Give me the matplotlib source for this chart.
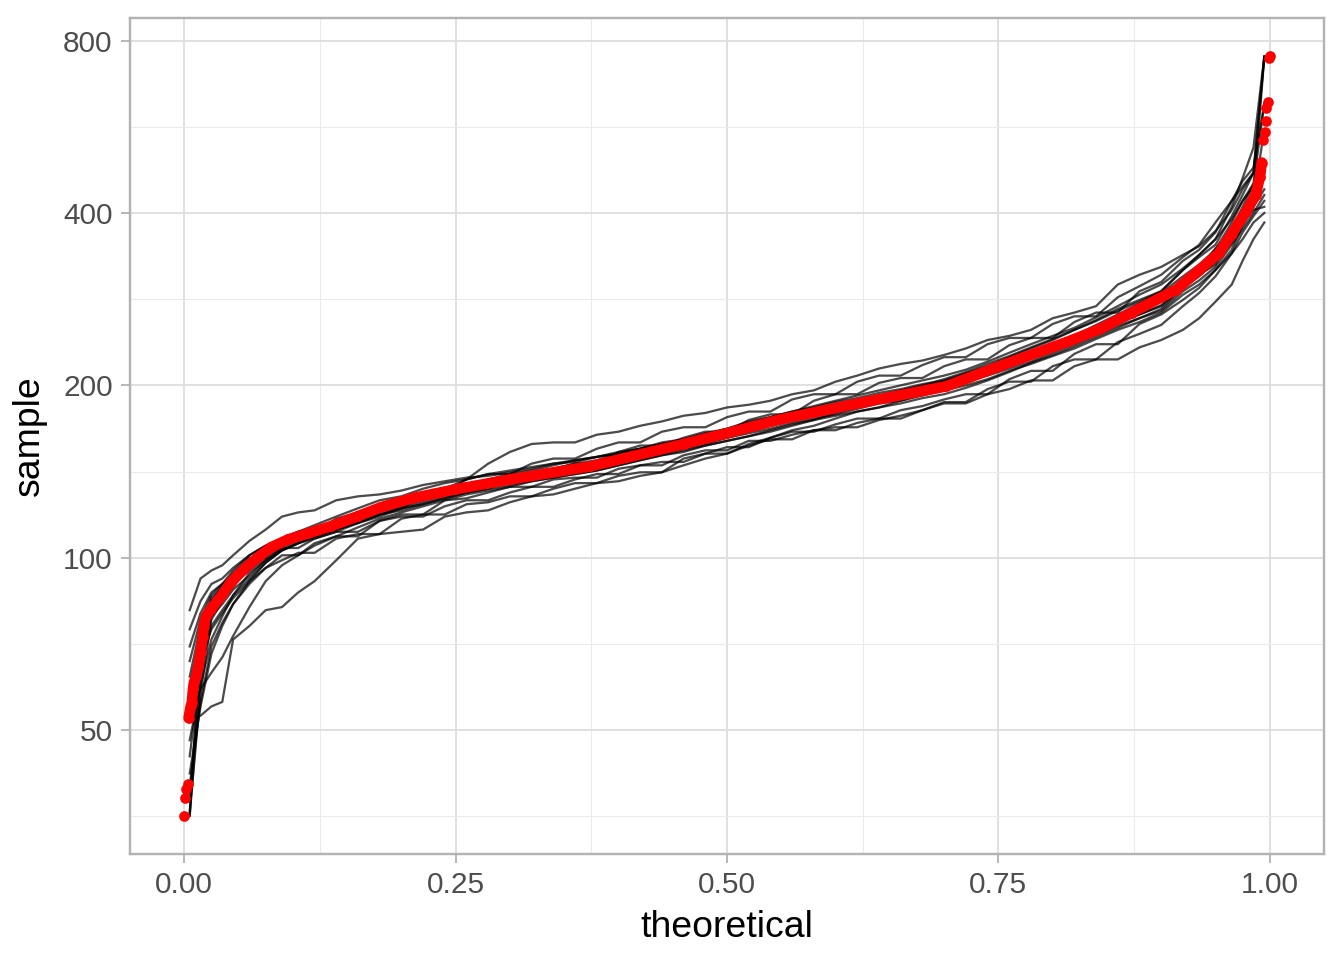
import numpy as np
import matplotlib
matplotlib.use("Agg")
from matplotlib import pyplot as plt
from matplotlib.ticker import FixedLocator, NullFormatter

plt.rcParams['font.family'] = ['Liberation Sans', 'DejaVu Sans']

# observed sample quantiles (red points)
red_x = [0.000, 0.001, 0.002, 0.003, 0.004, 0.006, 0.007, 0.008, 0.009, 0.011,
         0.013, 0.014, 0.015, 0.017, 0.018, 0.020, 0.025, 0.034, 0.043, 0.055,
         0.068, 0.080, 0.096, 0.114, 0.135, 0.160, 0.181, 0.210, 0.250, 0.300,
         0.374, 0.460, 0.500, 0.549, 0.625, 0.702, 0.751, 0.812, 0.843, 0.873,
         0.914, 0.935, 0.953, 0.965, 0.978, 0.987, 0.991, 0.9926, 0.9936, 0.996,
         0.9965, 0.997, 0.998, 0.999, 1.000]
red_y = [35.4, 38.1, 39.4, 40.2, 52.5, 55.1, 55.9, 58.9, 60.6, 62.1,
         64.4, 66.5, 68.4, 72.7, 75.9, 79.1, 81.5, 85.7, 90.6, 95.5,
         100.2, 104.3, 107.7, 110.3, 113.5, 118.2, 122.5, 127, 131.7, 137,
         144.4, 158, 165, 174.4, 186.7, 199.2, 216, 237.7, 250.6, 268,
         294, 318, 340, 368, 402, 430, 463, 490, 537, 555,
         580, 609, 624, 747, 752]

# simulated samples (black lines), all read at the same theoretical positions
sim_x = [0.005, 0.015, 0.025, 0.035, 0.045, 0.06, 0.075, 0.09, 0.105, 0.12,
         0.14, 0.16, 0.18, 0.2, 0.22, 0.24, 0.26, 0.28, 0.3, 0.32,
         0.34, 0.36, 0.38, 0.4, 0.42, 0.44, 0.46, 0.48, 0.5, 0.52,
         0.54, 0.56, 0.58, 0.6, 0.62, 0.64, 0.66, 0.68, 0.7, 0.72,
         0.74, 0.76, 0.78, 0.8, 0.82, 0.84, 0.86, 0.88, 0.9, 0.92,
         0.935, 0.95, 0.965, 0.975, 0.985, 0.995]
sim_a = [35.5, 72, 85, 89, 93, 97, 103, 106, 109, 111, 116, 119, 121, 127, 130, 132, 137, 146, 153, 158,
         159, 159, 164, 166, 170, 173, 177, 179, 183, 185, 188, 193, 196, 203, 208, 214, 218, 221, 226, 232,
         240, 244, 250, 262, 268, 275, 300, 312, 322, 338, 350, 372, 405, 440, 470, 750]
sim_b = [52, 64, 79, 83, 88, 93, 99, 104, 104, 108, 111, 111, 116, 119, 119, 126, 127, 130, 133, 133,
         137, 138, 138, 143, 145, 145, 151, 154, 154, 160, 160, 164, 167, 167, 172, 175, 175, 181, 186, 186,
         193, 197, 204, 204, 216, 222, 222, 233, 240, 250, 262, 280, 300, 330, 360, 385]
sim_c = [81, 92, 95, 97, 101, 107, 112, 118, 120, 121, 126, 128, 129, 131, 134, 136, 138, 139, 141, 143,
         146, 147, 150, 152, 155, 158, 160, 163, 167, 171, 174, 177, 180, 184, 188, 191, 195, 199, 203, 208,
         214, 222, 228, 236, 244, 252, 262, 272, 283, 298, 312, 330, 355, 385, 430, 480]
sim_d = [52, 53, 55, 56, 72, 76, 81, 82, 87, 91, 99, 108, 110, 111, 112, 118, 120, 121, 125, 128,
         129, 132, 135, 136, 139, 141, 145, 149, 152, 158, 162, 167, 170, 175, 180, 183, 188, 193, 197, 204,
         210, 216, 224, 232, 241, 250, 262, 270, 283, 300, 318, 345, 375, 410, 450, 620]
sim_e = [36, 58, 78, 84, 89, 96, 101, 105, 108, 110, 113, 118, 121, 124, 127, 131, 133, 136, 138, 140,
         142, 145, 146, 150, 153, 156, 159, 163, 166, 169, 173, 176, 180, 183, 187, 190, 193, 196, 200, 206,
         212, 219, 226, 233, 241, 250, 260, 272, 284, 302, 320, 347, 372, 400, 430, 750]
sim_f = [40, 56, 70, 77, 83, 90, 96, 101, 101, 106, 109, 109, 116, 118, 118, 123, 126, 126, 130, 133,
         133, 137, 140, 140, 145, 147, 147, 152, 156, 156, 162, 166, 166, 171, 175, 175, 181, 184, 189, 193,
         193, 205, 212, 212, 227, 236, 236, 256, 266, 282, 296, 318, 345, 380, 410, 440]
sim_g = [60, 72, 84, 89, 94, 100, 100, 108, 111, 111, 117, 120, 120, 127, 130, 130, 137, 140, 140, 146,
         149, 149, 155, 159, 159, 166, 169, 169, 176, 180, 180, 189, 193, 193, 203, 208, 208, 217, 224, 224,
         236, 242, 242, 256, 264, 264, 285, 298, 312, 335, 352, 385, 420, 445, 470, 490]
sim_h = [45, 64, 76, 81, 86, 92, 98, 103, 106, 109, 112, 115, 119, 122, 125, 128, 130, 133, 135, 138,
         140, 143, 146, 148, 151, 153, 156, 159, 162, 165, 168, 172, 175, 178, 182, 186, 188, 192, 196, 200,
         205, 212, 218, 225, 232, 241, 250, 258, 268, 288, 300, 318, 340, 360, 385, 400]
sim_i = [66, 78, 86, 90, 95, 101, 105, 108, 111, 113, 115, 119, 123, 126, 129, 131, 134, 137, 139, 141,
         143, 146, 148, 152, 155, 158, 161, 164, 168, 172, 176, 180, 184, 188, 192, 196, 200, 204, 208, 213,
         220, 228, 236, 244, 252, 263, 275, 288, 300, 320, 338, 360, 390, 420, 445, 460]
sim_j = [57, 66, 75, 80, 85, 91, 96, 99, 102, 102, 108, 110, 110, 117, 119, 119, 124, 125, 128, 128,
         132, 135, 135, 139, 141, 141, 149, 152, 152, 157, 161, 161, 167, 169, 169, 174, 177, 181, 187, 187,
         197, 203, 203, 216, 222, 222, 238, 246, 255, 275, 290, 310, 340, 370, 395, 420]
sim_k = [35.4, 61, 82, 87, 92, 99, 104, 108, 111, 114, 118, 122, 126, 128, 132, 135, 137, 140, 142, 144,
         146, 148, 150, 153, 155, 159, 161, 165, 168, 173, 176, 180, 183, 187, 190, 194, 197, 201, 204, 210,
         216, 224, 232, 240, 250, 260, 272, 282, 292, 318, 338, 360, 410, 460, 520, 750]
sim_l = [48, 60, 72, 79, 86, 94, 99, 103, 106, 109, 112, 115, 118, 122, 124, 127, 130, 132, 136, 138,
         140, 142, 144, 147, 149, 152, 155, 158, 162, 166, 170, 174, 178, 182, 186, 190, 194, 199, 203, 209,
         214, 221, 228, 236, 244, 255, 266, 278, 290, 310, 325, 345, 385, 420, 450, 470]
sim_m = [75, 84, 90, 92, 96, 101, 105, 105, 110, 112, 112, 119, 122, 122, 128, 131, 131, 136, 138, 138,
         143, 146, 146, 153, 157, 157, 162, 166, 166, 174, 178, 178, 188, 193, 193, 202, 206, 206, 216, 222,
         222, 235, 242, 242, 258, 268, 268, 292, 303, 330, 345, 370, 420, 455, 480, 620]
sim_n = [55, 59, 63, 67, 73, 82, 91, 97, 101, 105, 109, 113, 117, 120, 123, 126, 129, 131, 133, 136,
         138, 140, 142, 145, 148, 151, 154, 157, 160, 163, 167, 171, 174, 177, 180, 183, 186, 190, 193, 198,
         204, 211, 219, 226, 234, 243, 252, 262, 272, 296, 310, 330, 360, 385, 405, 410]
sim_o = [38, 65, 80, 85, 90, 97, 102, 106, 109, 111, 114, 117, 121, 124, 127, 130, 132, 134, 136, 138,
         140, 142, 145, 148, 151, 154, 157, 160, 164, 167, 171, 174, 178, 181, 185, 188, 192, 196, 199, 204,
         210, 217, 224, 231, 238, 247, 256, 266, 276, 298, 312, 328, 360, 390, 420, 560]
sim_p = [62, 76, 84, 87, 90, 95, 100, 104, 107, 109, 112, 116, 119, 121, 124, 127, 130, 132, 134, 136,
         138, 140, 142, 145, 148, 151, 153, 157, 160, 163, 166, 170, 174, 179, 183, 187, 191, 195, 199, 203,
         208, 214, 220, 228, 236, 245, 254, 262, 270, 292, 305, 322, 352, 375, 400, 430]
sim_q = [42, 55, 68, 76, 83, 91, 98, 103, 106, 108, 111, 115, 119, 123, 126, 129, 132, 134, 137, 139,
         141, 144, 146, 149, 152, 156, 159, 162, 166, 170, 173, 176, 180, 184, 188, 192, 196, 200, 205, 211,
         218, 225, 233, 241, 250, 259, 270, 280, 292, 318, 335, 352, 395, 430, 470, 750]
sim_r = [70, 80, 87, 90, 93, 98, 102, 105, 108, 111, 114, 118, 122, 125, 128, 131, 134, 137, 140, 142,
         145, 148, 150, 152, 155, 158, 160, 163, 166, 169, 172, 175, 179, 183, 186, 189, 193, 197, 201, 206,
         212, 218, 225, 232, 240, 249, 258, 266, 275, 296, 312, 325, 365, 400, 440, 480]
sim_lines = [sim_a, sim_b, sim_c, sim_d, sim_e, sim_f, sim_g, sim_h, sim_i,
             sim_j, sim_k, sim_l, sim_m, sim_n, sim_o, sim_p, sim_q, sim_r]

y_breaks = [50, 100, 200, 400, 800]
x_breaks = [0.0, 0.25, 0.5, 0.75, 1.0]
x_labels = ['0.00', '0.25', '0.50', '0.75', '1.00']

fig = plt.figure(figsize=(7, 5), dpi=192)
ax = fig.add_axes([130 / 1344, 1 - 854 / 960, (1324 - 130) / 1344, (854 - 18) / 960])

for sim in sim_lines:
    ax.plot(sim_x, sim, color='black', alpha=0.7, linewidth=0.85, zorder=3)

# red band: a thick line through the dense body, dots everywhere
red_x_arr = np.array(red_x)
red_y_arr = np.array(red_y)
body = (red_y_arr >= 50) & (red_y_arr <= 500)
ax.plot(red_x_arr[body], red_y_arr[body], color='red', linewidth=4.0,
        solid_capstyle='round', zorder=4)
ax.plot(red_x, red_y, 'o', color='red', markersize=4.0, markeredgewidth=0, zorder=5)

# ggplot-like limits (5% expansion, log scale on y)
ax.set_yscale('log')
x0, x1 = min(red_x), max(red_x)
ax.set_xlim(x0 - 0.05 * (x1 - x0), x1 + 0.05 * (x1 - x0))
ly0, ly1 = np.log10(min(red_y)), np.log10(max(red_y))
ax.set_ylim(10 ** (ly0 - 0.05 * (ly1 - ly0)), 10 ** (ly1 + 0.05 * (ly1 - ly0)))

ax.yaxis.set_major_locator(FixedLocator(y_breaks))
ax.set_yticklabels([str(b) for b in y_breaks])
y_minor = [np.sqrt(a * b) for a, b in zip([25] + y_breaks[:-1], y_breaks)] + [np.sqrt(800 * 1600)]
ax.yaxis.set_minor_locator(FixedLocator(y_minor))
ax.yaxis.set_minor_formatter(NullFormatter())
ax.set_xticks(x_breaks)
ax.set_xticklabels(x_labels)
ax.xaxis.set_minor_locator(FixedLocator([0.125, 0.375, 0.625, 0.875]))

ax.grid(True, which='major', color='#DEDEDE', linewidth=0.7, zorder=0)
ax.grid(True, which='minor', color='#EBEBEB', linewidth=0.4, zorder=0)
ax.set_axisbelow(True)
for side in ax.spines.values():
    side.set_color('#B3B3B3')
    side.set_linewidth(0.9)

ax.tick_params(which='major', length=3.5, width=0.7, color='#B3B3B3',
               labelsize=11.2, labelcolor='#4D4D4D', pad=3)
ax.tick_params(which='minor', length=0)

ax.set_xlabel('theoretical', fontsize=14, color='black', labelpad=4)
ax.set_ylabel('sample', fontsize=14, color='black', labelpad=6)

fig.savefig('out.png', dpi=192)
